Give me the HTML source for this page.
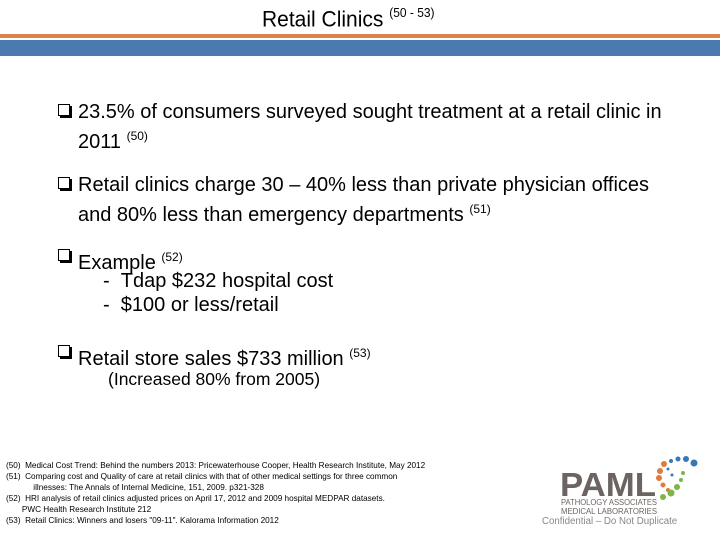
<!DOCTYPE html>
<html><head><meta charset="utf-8"><style>
body{margin:0;width:720px;height:540px;background:#fff;position:relative;overflow:hidden;font-family:"Liberation Sans",Arial,sans-serif;color:#000}
.a{position:absolute;white-space:nowrap}
.t{font-size:20px;line-height:22px}
.box{position:absolute;width:10px;height:10px;border:1px solid #000;box-shadow:2px 2px 0 #000}
sup{font-size:12px;vertical-align:8px}
.fn{font-size:8.2px;line-height:11px;color:#000;font-family:"Liberation Sans",sans-serif}
</style></head><body>
<div class="a" style="left:262px;top:6px;font-size:21px;transform:scaleY(1.05)">Retail Clinics <sup style="font-size:12px;vertical-align:9px">(50 - 53)</sup></div>
<div class="a" style="left:0;top:34px;width:720px;height:4px;background:#d9844a"></div>
<div class="a" style="left:0;top:40px;width:720px;height:16px;background:#4a7aaf"></div>

<div class="box" style="left:58px;top:104px"></div>
<div class="a t" style="left:78px;top:101px">23.5% of consumers surveyed sought treatment at a retail clinic in</div>
<div class="a t" style="left:78px;top:125px">2011 <sup>(50)</sup></div>

<div class="box" style="left:58px;top:177px"></div>
<div class="a t" style="left:78px;top:174px">Retail clinics charge 30 – 40% less than private physician offices</div>
<div class="a t" style="left:78px;top:198px">and 80% less than emergency departments <sup>(51)</sup></div>

<div class="box" style="left:58px;top:249px"></div>
<div class="a t" style="left:78px;top:246px">Example <sup>(52)</sup></div>
<div class="a t" style="left:103px;top:270px">- &nbsp;Tdap $232 hospital cost</div>
<div class="a t" style="left:103px;top:294px">- &nbsp;$100 or less/retail</div>

<div class="box" style="left:58px;top:345px"></div>
<div class="a t" style="left:78px;top:342px">Retail store sales $733 million <sup>(53)</sup></div>
<div class="a" style="left:108px;top:369px;font-size:17.5px">(Increased 80% from 2005)</div>

<div class="a fn" style="left:6px;top:460px">
(50)&nbsp; Medical Cost Trend: Behind the numbers 2013: Pricewaterhouse Cooper, Health Research Institute, May 2012<br>
(51)&nbsp; Comparing cost and Quality of care at retail clinics with that of other medical settings for three common<br>
&nbsp;&nbsp;&nbsp;&nbsp;&nbsp;&nbsp;&nbsp;&nbsp;&nbsp;&nbsp;&nbsp;&nbsp;illnesses: The Annals of Internal Medicine, 151, 2009. p321-328<br>
(52)&nbsp; HRI analysis of retail clinics adjusted prices on April 17, 2012 and 2009 hospital MEDPAR datasets.<br>
&nbsp;&nbsp;&nbsp;&nbsp;&nbsp;&nbsp;&nbsp;PWC Health Research Institute 212<br>
(53)&nbsp; Retail Clinics: Winners and losers "09-11". Kalorama Information 2012</div>

<svg class="a" style="left:555px;top:455px" width="160" height="62">
<g fill="#e07b39"><circle cx="109" cy="9" r="3"/><circle cx="105" cy="16" r="3"/><circle cx="104" cy="23" r="3"/><circle cx="108" cy="30" r="2.5"/><circle cx="113" cy="35" r="2"/></g>
<g fill="#3a78b5"><circle cx="116" cy="6" r="2"/><circle cx="123" cy="4" r="2.5"/><circle cx="131" cy="4" r="3"/><circle cx="139" cy="8" r="3.5"/><circle cx="113" cy="14" r="1.5"/><circle cx="117" cy="20" r="1.5"/></g>
<g fill="#7ab648"><circle cx="128" cy="18" r="2"/><circle cx="126" cy="25" r="2"/><circle cx="122" cy="32" r="3"/><circle cx="116" cy="38" r="3.5"/><circle cx="108" cy="42" r="3"/></g>
<text x="5" y="41" font-family="Liberation Sans" font-weight="bold" font-size="33" fill="#6b6460" textLength="96" lengthAdjust="spacingAndGlyphs">PAML</text>
<text x="6" y="50" font-family="Liberation Sans" font-size="8" fill="#6b6460" textLength="96" lengthAdjust="spacingAndGlyphs">PATHOLOGY ASSOCIATES</text>
<text x="6" y="59" font-family="Liberation Sans" font-size="8" fill="#6b6460" textLength="96" lengthAdjust="spacingAndGlyphs">MEDICAL LABORATORIES</text>
</svg>
<div class="a" style="left:542px;top:516px;font-size:9.7px;color:#888">Confidential – Do Not Duplicate</div>
</body></html>
